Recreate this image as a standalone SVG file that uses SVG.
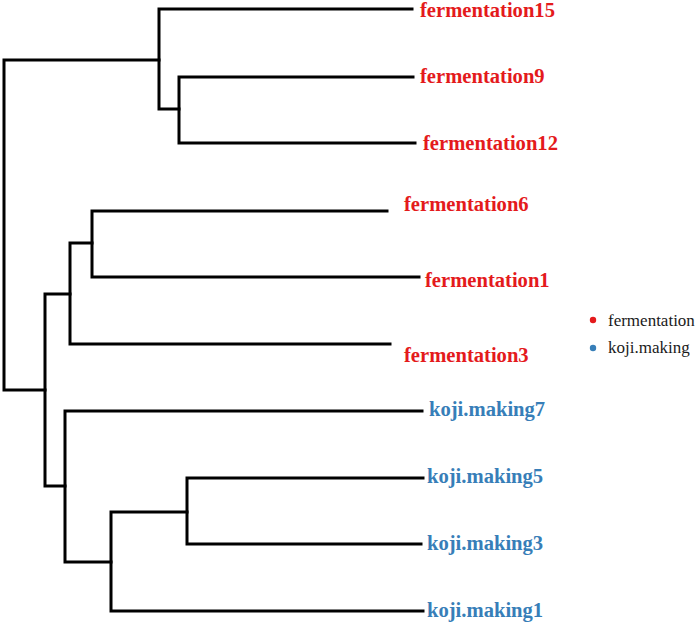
<svg xmlns="http://www.w3.org/2000/svg" width="700" height="624" viewBox="0 0 700 624">
<style>
.br{fill:none;stroke:#000;stroke-width:3;stroke-linejoin:miter;stroke-linecap:square}
.lab{font-family:"Liberation Serif","Times New Roman",serif;font-weight:bold;font-size:20.6px}
.f{fill:#E41A1C}
.k{fill:#377EB8}
.leg{font-family:"Liberation Serif","Times New Roman",serif;font-size:17px;fill:#1a1a1a}
</style>
<rect width="700" height="624" fill="#fff"/>
<g id="connectors">
<path class="br" d="M159,60 H4 V390 H45"/>
<path class="br" d="M412,9 H159 V109 H179"/>
<path class="br" d="M413,77 H179 V143 H415"/>
<path class="br" d="M70,294 H45 V486 H65"/>
<path class="br" d="M92,243 H70 V344 H390"/>
<path class="br" d="M387,211 H92 V277 H419"/>
<path class="br" d="M422,411 H65 V562 H111"/>
<path class="br" d="M187,512 H111 V611 H423"/>
<path class="br" d="M423,478 H187 V544 H421"/>
</g>
<g id="fermentation15"><text class="lab f" x="420" y="17">fermentation15</text></g>
<g id="fermentation9"><text class="lab f" x="420" y="83">fermentation9</text></g>
<g id="fermentation12"><text class="lab f" x="423" y="150">fermentation12</text></g>
<g id="fermentation6"><text class="lab f" x="404" y="211">fermentation6</text></g>
<g id="fermentation1"><text class="lab f" x="425" y="287">fermentation1</text></g>
<g id="fermentation3"><text class="lab f" x="404" y="362">fermentation3</text></g>
<g id="koji.making7"><text class="lab k" x="429" y="416">koji.making7</text></g>
<g id="koji.making5"><text class="lab k" x="427" y="483">koji.making5</text></g>
<g id="koji.making3"><text class="lab k" x="427" y="550">koji.making3</text></g>
<g id="koji.making1"><text class="lab k" x="427" y="617">koji.making1</text></g>
<g id="legend">
<circle cx="593" cy="320" r="3.2" fill="#E41A1C"/>
<text class="leg" x="608" y="326">fermentation</text>
<circle cx="593" cy="348" r="3.2" fill="#377EB8"/>
<text class="leg" x="608" y="353">koji.making</text>
</g>
</svg>
